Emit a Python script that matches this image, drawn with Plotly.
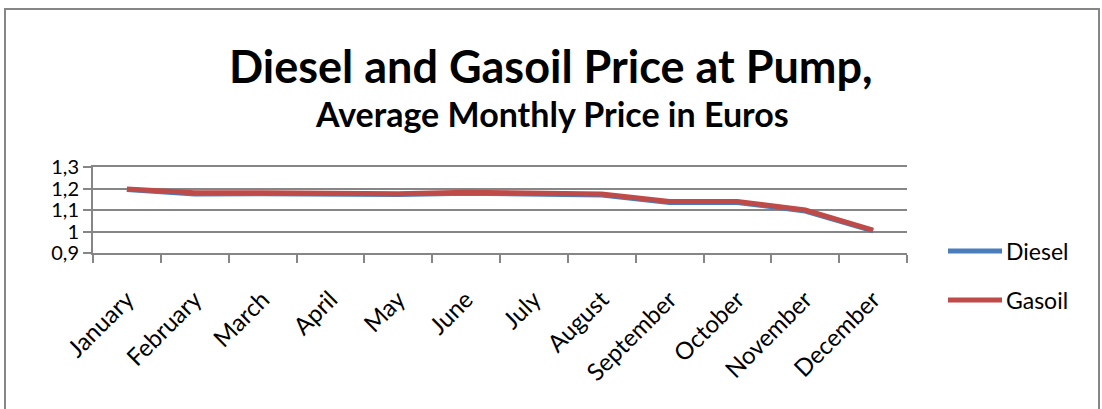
import plotly.graph_objects as go

months = ["January", "February", "March", "April", "May", "June", "July",
          "August", "September", "October", "November", "December"]
diesel = [1.195, 1.175, 1.176, 1.172, 1.172, 1.178, 1.175, 1.170, 1.135, 1.135, 1.095, 1.003]
gasoil = [1.198, 1.180, 1.180, 1.176, 1.176, 1.183, 1.179, 1.174, 1.140, 1.140, 1.100, 1.006]
series_names = ["Diesel", "Gasoil"]
series_colors = ["#4a7ebb", "#be4b48"]

FONT = "Lato, 'Open Sans', sans-serif"
GRAY = "#868686"

# plot area in pixels: x 93..907, y 167..253
PW, PH = 814, 86
def px(x): return (x - 93) / PW
def py(y): return (253 - y) / PH

fig = go.Figure()
for name, vals, col in zip(series_names, [diesel, gasoil], series_colors):
    fig.add_trace(go.Scatter(x=months, y=vals, name=name, mode="lines",
                             line=dict(color=col, width=5), showlegend=False))

shapes = [dict(type="rect", xref="paper", yref="paper",
               x0=px(5), x1=px(1099), y0=py(415), y1=py(9),
               line=dict(color=GRAY, width=2), fillcolor="rgba(0,0,0,0)",
               layer="below")]
annotations = [
    dict(text="<b>Diesel and Gasoil Price at Pump,</b>", xref="paper", yref="paper",
         x=px(551), y=py(66), xanchor="center", yanchor="middle", showarrow=False,
         font=dict(family=FONT, size=45, color="black")),
    dict(text="<b>Average Monthly Price in Euros</b>", xref="paper", yref="paper",
         x=px(552), y=py(113), xanchor="center", yanchor="middle", showarrow=False,
         font=dict(family=FONT, size=34, color="black")),
]
legend_y = [251, 300]
for name, col, ly in zip(series_names, series_colors, legend_y):
    shapes.append(dict(type="line", xref="paper", yref="paper",
                       x0=px(948), x1=px(1002), y0=py(ly), y1=py(ly),
                       line=dict(color=col, width=5)))
    annotations.append(dict(text=name, xref="paper", yref="paper",
                            x=px(1004), y=py(ly), xanchor="left", yanchor="middle",
                            showarrow=False, font=dict(family=FONT, size=23, color="black")))

fig.update_layout(
    width=1102, height=409,
    margin=dict(l=93, r=195, t=167, b=156, autoexpand=False),
    paper_bgcolor="white", plot_bgcolor="white",
    separators=", ",
    font=dict(family=FONT, size=22, color="black"),
    showlegend=False,
    xaxis=dict(
        type="category", range=[-0.5, 11.5], tickson="boundaries",
        showgrid=False, showline=True, linecolor=GRAY, linewidth=2, mirror=True,
        ticks="outside", ticklen=8, tickcolor=GRAY, tickwidth=2,
        tickangle=-45, tickfont=dict(size=24), ticklabelstandoff=21,
        automargin=False,
    ),
    yaxis=dict(
        range=[0.9, 1.3], dtick=0.1, tick0=0.9,
        showgrid=True, gridcolor=GRAY, gridwidth=2,
        showline=True, linecolor=GRAY, linewidth=2,
        ticks="outside", ticklen=8, tickcolor=GRAY, tickwidth=2,
        tickfont=dict(size=20), zeroline=False, automargin=False,
    ),
    shapes=shapes,
    annotations=annotations,
)

fig.write_html("out.html", config={"displayModeBar": False},
               post_script="document.body.style.margin='0';document.body.style.overflow='hidden';")
